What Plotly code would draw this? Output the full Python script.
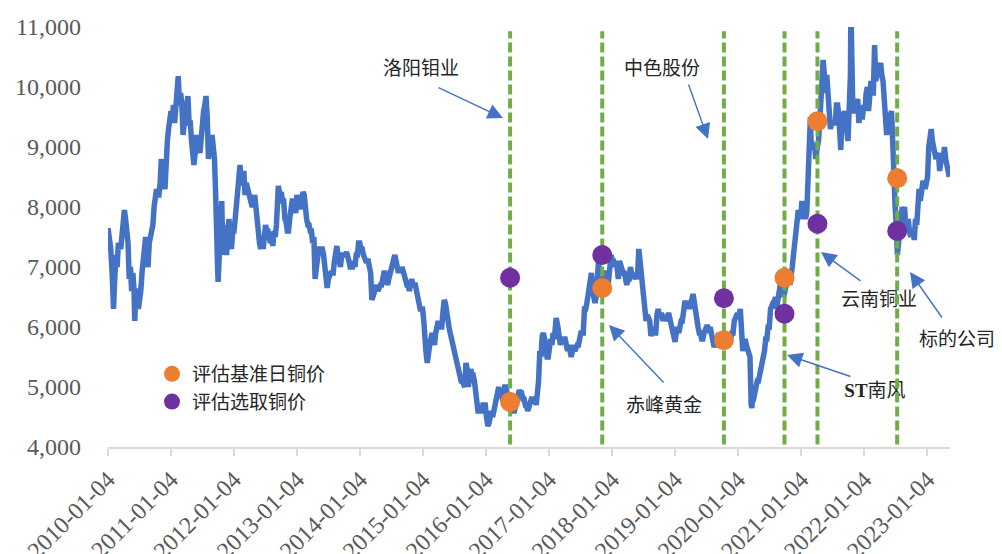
import pandas as pd
import plotly.graph_objects as go

# ---------------- data ----------------
copper_series = [
 ("2010-01-04",7650),("2010-01-12",7500),("2010-01-20",7300),("2010-01-28",6900),("2010-02-05",6300),
 ("2010-02-12",6800),("2010-02-19",7200),("2010-02-26",7000),("2010-03-05",7400),("2010-03-12",7350),
 ("2010-03-19",7300),("2010-03-26",7500),("2010-04-02",7650),("2010-04-09",7950),("2010-04-16",7800),
 ("2010-04-23",7600),("2010-04-30",7400),("2010-05-07",6800),("2010-05-14",7000),("2010-05-21",6600),
 ("2010-05-28",6900),("2010-06-04",6600),("2010-06-08",6100),("2010-06-15",6600),("2010-06-22",6600),
 ("2010-06-29",6300),("2010-07-06",6400),("2010-07-13",6600),("2010-07-20",6900),("2010-07-27",7100),
 ("2010-08-03",7300),("2010-08-10",7500),("2010-08-17",7100),("2010-08-24",7000),("2010-08-31",7400),
 ("2010-09-07",7500),("2010-09-14",7600),("2010-09-21",7700),("2010-09-28",8000),("2010-10-05",8100),
 ("2010-10-12",8300),("2010-10-19",8200),("2010-10-26",8200),("2010-11-02",8400),("2010-11-09",8800),
 ("2010-11-16",8300),("2010-11-23",8400),("2010-11-30",8300),("2010-12-07",8900),("2010-12-14",9100),
 ("2010-12-21",9300),("2010-12-28",9500),
 ("2011-01-04",9600),("2011-01-11",9400),("2011-01-18",9700),("2011-01-25",9400),("2011-02-01",9800),
 ("2011-02-08",9900),("2011-02-15",10180),("2011-02-22",9700),("2011-03-01",9900),("2011-03-08",9700),
 ("2011-03-15",9200),("2011-03-22",9400),("2011-03-29",9400),("2011-04-05",9700),("2011-04-12",9850),
 ("2011-04-19",9400),("2011-04-26",9400),("2011-05-03",9100),("2011-05-10",8800),("2011-05-17",8700),
 ("2011-05-24",8900),("2011-05-31",9200),("2011-06-07",9000),("2011-06-14",9000),("2011-06-21",8900),
 ("2011-06-28",9200),("2011-07-05",9500),("2011-07-12",9600),("2011-07-19",9700),("2011-07-26",9850),
 ("2011-08-02",9500),("2011-08-09",8800),("2011-08-16",9000),("2011-08-23",9000),("2011-08-30",9200),
 ("2011-09-06",9000),("2011-09-13",8800),("2011-09-20",8200),("2011-09-23",7300),("2011-09-30",7100),
 ("2011-10-04",6750),("2011-10-11",7300),("2011-10-18",7300),("2011-10-25",8100),("2011-11-01",7200),
 ("2011-11-08",7700),("2011-11-15",7500),("2011-11-22",7200),("2011-11-29",7600),("2011-12-06",7800),
 ("2011-12-13",7400),("2011-12-20",7300),("2011-12-28",7600),
 ("2012-01-04",7600),("2012-01-11",7800),("2012-01-18",8100),("2012-01-25",8400),("2012-02-01",8500),
 ("2012-02-08",8700),("2012-02-15",8400),("2012-02-22",8400),("2012-03-01",8600),("2012-03-08",8200),
 ("2012-03-15",8400),("2012-03-22",8300),("2012-03-29",8300),("2012-04-05",8100),("2012-04-12",8000),
 ("2012-04-19",8000),("2012-04-26",8100),("2012-05-03",8200),("2012-05-10",8000),("2012-05-17",7700),
 ("2012-05-24",7700),("2012-05-31",7400),("2012-06-07",7300),("2012-06-14",7500),("2012-06-21",7300),
 ("2012-06-28",7500),("2012-07-05",7700),("2012-07-12",7600),("2012-07-19",7600),("2012-07-26",7500),
 ("2012-08-02",7400),("2012-08-09",7500),("2012-08-16",7350),("2012-08-23",7600),("2012-08-30",7500),
 ("2012-09-06",7700),("2012-09-13",8000),("2012-09-17",8350),("2012-09-27",8200),("2012-10-04",8250),
 ("2012-10-11",8100),("2012-10-18",8100),("2012-10-25",7800),("2012-11-01",7750),("2012-11-08",7600),
 ("2012-11-15",7600),("2012-11-22",7800),("2012-11-29",8000),("2012-12-06",8100),("2012-12-13",8100),
 ("2012-12-20",7900),("2012-12-27",7900),
 ("2013-01-03",8200),("2013-01-10",8000),("2013-01-17",8000),("2013-01-24",8000),("2013-01-31",8100),
 ("2013-02-07",8250),("2013-02-14",8200),("2013-02-21",7900),("2013-02-28",7800),("2013-03-07",7700),
 ("2013-03-14",7700),("2013-03-21",7600),("2013-03-28",7600),("2013-04-04",7400),("2013-04-11",7500),
 ("2013-04-18",6800),("2013-04-25",7000),("2013-05-02",7200),("2013-05-09",7300),("2013-05-16",7300),
 ("2013-05-23",7300),("2013-05-30",7300),("2013-06-06",7200),("2013-06-13",7000),("2013-06-20",6800),
 ("2013-06-27",6650),("2013-07-04",6800),("2013-07-11",6900),("2013-07-18",6900),("2013-07-25",6900),
 ("2013-08-01",6900),("2013-08-08",7100),("2013-08-15",7300),("2013-08-22",7350),("2013-08-29",7200),
 ("2013-09-05",7100),("2013-09-12",7000),("2013-09-19",7200),("2013-09-26",7200),("2013-10-03",7200),
 ("2013-10-10",7200),("2013-10-17",7250),("2013-10-24",7200),("2013-10-31",7100),("2013-11-07",7000),
 ("2013-11-14",7000),("2013-11-21",7000),("2013-11-28",7100),("2013-12-05",7000),("2013-12-12",7200),
 ("2013-12-19",7200),("2013-12-26",7400),
 ("2014-01-02",7400),("2014-01-09",7300),("2014-01-16",7300),("2014-01-23",7200),("2014-01-30",7100),
 ("2014-02-06",7100),("2014-02-13",7100),("2014-02-20",7100),("2014-02-27",7000),("2014-03-06",6900),
 ("2014-03-13",6450),("2014-03-20",6500),("2014-03-27",6600),("2014-04-03",6600),("2014-04-10",6700),
 ("2014-04-17",6600),("2014-04-24",6700),("2014-05-01",6700),("2014-05-08",6700),("2014-05-15",6900),
 ("2014-05-22",6900),("2014-05-29",6900),("2014-06-05",6700),("2014-06-12",6700),("2014-06-19",6800),
 ("2014-06-26",6900),("2014-07-03",7000),("2014-07-10",7100),("2014-07-17",7100),("2014-07-24",7200),
 ("2014-07-31",7100),("2014-08-07",7000),("2014-08-14",6900),("2014-08-21",7000),("2014-08-28",6900),
 ("2014-09-04",7000),("2014-09-11",6900),("2014-09-18",6800),("2014-09-25",6800),("2014-10-02",6700),
 ("2014-10-09",6700),("2014-10-16",6600),("2014-10-23",6700),("2014-10-30",6800),("2014-11-06",6700),
 ("2014-11-13",6700),("2014-11-20",6700),("2014-11-27",6600),("2014-12-04",6400),("2014-12-11",6400),
 ("2014-12-18",6300),("2014-12-25",6300),
 ("2015-01-01",6300),("2015-01-08",6100),("2015-01-14",5700),("2015-01-20",5600),("2015-01-28",5400),
 ("2015-02-04",5700),("2015-02-11",5700),("2015-02-18",5800),("2015-02-25",5900),("2015-03-04",5800),
 ("2015-03-11",5700),("2015-03-18",5900),("2015-03-25",6100),("2015-04-01",6100),("2015-04-08",6000),
 ("2015-04-15",6000),("2015-04-22",6000),("2015-04-29",6250),("2015-05-06",6450),("2015-05-13",6400),
 ("2015-05-20",6200),("2015-05-27",6000),("2015-06-03",6000),("2015-06-10",5900),("2015-06-17",5800),
 ("2015-06-24",5700),("2015-07-01",5700),("2015-07-08",5500),("2015-07-15",5500),("2015-07-22",5300),
 ("2015-07-29",5200),("2015-08-05",5200),("2015-08-12",5100),("2015-08-19",5100),("2015-08-26",5000),
 ("2015-09-02",5000),("2015-09-09",5400),("2015-09-16",5300),("2015-09-23",5000),("2015-09-30",5100),
 ("2015-10-07",5300),("2015-10-14",5200),("2015-10-21",5200),("2015-10-28",5100),("2015-11-04",4900),
 ("2015-11-11",4800),("2015-11-18",4600),("2015-11-25",4600),("2015-12-02",4600),("2015-12-09",4600),
 ("2015-12-16",4700),("2015-12-23",4700),("2015-12-30",4700),
 ("2016-01-06",4500),("2016-01-14",4350),("2016-01-21",4400),("2016-01-28",4500),("2016-02-04",4600),
 ("2016-02-11",4500),("2016-02-18",4600),("2016-02-25",4700),("2016-03-03",4900),("2016-03-10",4900),
 ("2016-03-17",5000),("2016-03-24",4900),("2016-03-31",4900),("2016-04-07",4800),("2016-04-14",4800),
 ("2016-04-21",5000),("2016-04-28",5000),("2016-05-05",4900),("2016-05-12",4700),("2016-05-19",4600),
 ("2016-05-26",4700),("2016-06-02",4600),("2016-06-09",4600),("2016-06-16",4600),("2016-06-23",4700),
 ("2016-06-30",4800),("2016-07-07",4900),("2016-07-14",4950),("2016-07-21",4900),("2016-07-28",4900),
 ("2016-08-04",4800),("2016-08-11",4800),("2016-08-18",4700),("2016-08-25",4700),("2016-09-01",4600),
 ("2016-09-08",4700),("2016-09-15",4700),("2016-09-22",4800),("2016-09-29",4800),("2016-10-06",4800),
 ("2016-10-13",4800),("2016-10-20",4700),("2016-10-27",4900),("2016-11-03",5100),("2016-11-10",5600),
 ("2016-11-17",5500),("2016-11-24",5850),("2016-12-01",5900),("2016-12-08",5800),("2016-12-15",5600),
 ("2016-12-22",5500),("2016-12-29",5500),
 ("2017-01-05",5600),("2017-01-12",5800),("2017-01-19",5700),("2017-01-26",5900),("2017-02-02",5800),
 ("2017-02-09",6000),("2017-02-13",6150),("2017-02-23",6000),("2017-03-02",5900),("2017-03-09",5700),
 ("2017-03-16",5800),("2017-03-23",5800),("2017-03-30",5800),("2017-04-06",5800),("2017-04-13",5700),
 ("2017-04-20",5600),("2017-04-27",5700),("2017-05-04",5600),("2017-05-11",5500),("2017-05-18",5600),
 ("2017-05-25",5700),("2017-06-01",5600),("2017-06-08",5700),("2017-06-15",5700),("2017-06-22",5700),
 ("2017-06-29",5900),("2017-07-06",5900),("2017-07-13",5900),("2017-07-20",5900),("2017-07-27",6300),
 ("2017-08-03",6300),("2017-08-10",6400),("2017-08-17",6500),("2017-08-24",6600),("2017-08-31",6800),
 ("2017-09-05",6900),("2017-09-12",6500),("2017-09-19",6500),("2017-09-26",6400),("2017-10-03",6500),
 ("2017-10-10",6800),("2017-10-16",7100),("2017-10-23",6900),("2017-10-30",6800),("2017-11-06",6800),
 ("2017-11-13",6700),("2017-11-20",6900),("2017-11-27",6900),("2017-12-04",6700),("2017-12-11",6700),
 ("2017-12-18",6900),("2017-12-28",7200),
 ("2018-01-04",7100),("2018-01-11",7100),("2018-01-18",7000),("2018-01-25",7100),("2018-02-01",7000),
 ("2018-02-08",6800),("2018-02-15",7100),("2018-02-22",7000),("2018-03-01",6900),("2018-03-08",6900),
 ("2018-03-15",6900),("2018-03-22",6700),("2018-03-29",6700),("2018-04-05",6800),("2018-04-12",6800),
 ("2018-04-19",7000),("2018-04-26",6900),("2018-05-03",6800),("2018-05-10",6900),("2018-05-17",6800),
 ("2018-05-24",6800),("2018-05-31",6900),("2018-06-07",7300),("2018-06-14",7100),("2018-06-21",6900),
 ("2018-06-28",6600),("2018-07-05",6300),("2018-07-12",6200),("2018-07-19",6100),("2018-07-26",6200),
 ("2018-08-02",6100),("2018-08-09",6100),("2018-08-16",5850),("2018-08-23",5900),("2018-08-30",6000),
 ("2018-09-06",5900),("2018-09-13",5900),("2018-09-20",6200),("2018-09-27",6300),("2018-10-04",6200),
 ("2018-10-11",6200),("2018-10-18",6200),("2018-10-25",6100),("2018-11-01",6200),("2018-11-08",6100),
 ("2018-11-15",6200),("2018-11-22",6200),("2018-11-29",6200),("2018-12-06",6100),("2018-12-13",6100),
 ("2018-12-20",6000),("2018-12-27",5900),
 ("2019-01-03",5750),("2019-01-10",5900),("2019-01-17",6000),("2019-01-24",5900),("2019-01-31",6100),
 ("2019-02-07",6100),("2019-02-14",6100),("2019-02-21",6300),("2019-02-28",6400),("2019-03-07",6400),
 ("2019-03-14",6400),("2019-03-21",6400),("2019-03-28",6300),("2019-04-04",6400),("2019-04-11",6400),
 ("2019-04-17",6550),("2019-04-25",6400),("2019-05-02",6200),("2019-05-09",6100),("2019-05-16",6000),
 ("2019-05-23",5900),("2019-05-30",5900),("2019-06-06",5800),("2019-06-13",5800),("2019-06-20",5900),
 ("2019-06-27",6000),("2019-07-04",6000),("2019-07-11",6000),("2019-07-18",5900),("2019-07-25",6000),
 ("2019-08-01",5900),("2019-08-08",5750),("2019-08-15",5700),("2019-08-22",5700),("2019-08-29",5700),
 ("2019-09-05",5800),("2019-09-12",5900),("2019-09-19",5800),("2019-09-26",5700),("2019-10-03",5650),
 ("2019-10-10",5750),("2019-10-17",5800),("2019-10-24",5900),("2019-10-31",5800),("2019-11-07",5900),
 ("2019-11-14",5800),("2019-11-21",5800),("2019-11-28",5900),("2019-12-05",5900),("2019-12-12",6100),
 ("2019-12-19",6200),("2019-12-26",6200),
 ("2020-01-02",6200),("2020-01-09",6200),("2020-01-16",6300),("2020-01-23",6000),("2020-01-30",5600),
 ("2020-02-06",5700),("2020-02-13",5800),("2020-02-20",5700),("2020-02-27",5600),("2020-03-05",5600),
 ("2020-03-12",5500),("2020-03-19",4700),("2020-03-23",4650),("2020-03-26",4800),("2020-04-02",4800),
 ("2020-04-09",4900),("2020-04-16",5100),("2020-04-23",5100),("2020-04-30",5100),("2020-05-07",5200),
 ("2020-05-14",5200),("2020-05-21",5400),("2020-05-28",5400),("2020-06-04",5600),("2020-06-11",5800),
 ("2020-06-18",5800),("2020-06-25",6000),("2020-07-02",6000),("2020-07-09",6300),("2020-07-16",6400),
 ("2020-07-23",6400),("2020-07-30",6400),("2020-08-06",6500),("2020-08-13",6300),("2020-08-20",6500),
 ("2020-08-27",6700),("2020-09-03",6700),("2020-09-10",6700),("2020-09-17",6800),("2020-09-24",6500),
 ("2020-10-01",6600),("2020-10-08",6700),("2020-10-15",6700),("2020-10-22",6900),("2020-10-29",6700),
 ("2020-11-05",6800),("2020-11-12",7000),("2020-11-19",7200),("2020-11-26",7400),("2020-12-03",7700),
 ("2020-12-10",7800),("2020-12-17",7950),("2020-12-24",7900),("2020-12-31",7800),
 ("2021-01-07",8100),("2021-01-14",7900),("2021-01-21",8000),("2021-01-28",7800),("2021-02-04",7900),
 ("2021-02-11",8400),("2021-02-18",8800),("2021-02-25",9500),("2021-03-01",9100),("2021-03-08",9000),
 ("2021-03-15",9000),("2021-03-22",9000),("2021-03-29",8800),("2021-04-06",9000),("2021-04-13",9100),
 ("2021-04-20",9400),("2021-04-27",9800),("2021-05-04",10000),("2021-05-10",10450),("2021-05-17",10200),
 ("2021-05-24",9900),("2021-05-31",10200),("2021-06-07",9900),("2021-06-14",9700),("2021-06-21",9300),
 ("2021-06-28",9400),("2021-07-05",9400),("2021-07-12",9400),("2021-07-19",9400),("2021-07-26",9700),
 ("2021-08-02",9700),("2021-08-09",9500),("2021-08-16",9200),("2021-08-20",8950),("2021-08-27",9400),
 ("2021-09-03",9500),("2021-09-10",9600),("2021-09-17",9300),("2021-09-24",9300),("2021-10-01",9100),
 ("2021-10-08",9600),("2021-10-15",10200),("2021-10-18",11300),("2021-10-22",10100),("2021-10-29",9600),
 ("2021-11-05",9600),("2021-11-12",9800),("2021-11-19",9700),("2021-11-26",9800),("2021-12-03",9400),
 ("2021-12-10",9600),("2021-12-17",9500),("2021-12-24",9500),("2021-12-31",9700),
 ("2022-01-07",9600),("2022-01-14",9900),("2022-01-21",10000),("2022-01-28",9600),("2022-02-04",9900),
 ("2022-02-11",10100),("2022-02-18",9900),("2022-02-25",9900),("2022-03-04",10700),("2022-03-07",10500),
 ("2022-03-11",10100),("2022-03-18",10200),("2022-03-25",10300),("2022-04-01",10300),("2022-04-08",10400),
 ("2022-04-15",10200),("2022-04-22",10100),("2022-04-29",9800),("2022-05-06",9600),("2022-05-13",9200),
 ("2022-05-20",9400),("2022-05-27",9500),("2022-06-03",9500),("2022-06-10",9600),("2022-06-17",9100),
 ("2022-06-24",8300),("2022-07-01",8000),("2022-07-08",7700),("2022-07-14",7200),("2022-07-21",7400),
 ("2022-07-28",7700),("2022-08-04",7700),("2022-08-11",8000),("2022-08-18",7900),("2022-08-25",8000),
 ("2022-09-01",7600),("2022-09-08",7700),("2022-09-15",7800),("2022-09-22",7600),("2022-09-29",7500),
 ("2022-10-06",7600),("2022-10-13",7600),("2022-10-20",7450),("2022-10-27",7800),("2022-11-03",7700),
 ("2022-11-10",8300),("2022-11-17",8300),("2022-11-24",8100),("2022-12-01",8300),("2022-12-08",8400),
 ("2022-12-15",8400),("2022-12-22",8300),("2022-12-29",8400),
 ("2023-01-05",8500),("2023-01-12",9000),("2023-01-19",9300),("2023-01-26",9300),("2023-02-02",9100),
 ("2023-02-09",8900),("2023-02-16",8900),("2023-02-23",8800),("2023-03-02",8900),("2023-03-09",8900),
 ("2023-03-16",8600),("2023-03-23",8800),("2023-03-30",8900),("2023-04-06",8800),("2023-04-13",9000),
 ("2023-04-20",8800),("2023-04-27",8600),("2023-05-04",8600),("2023-05-11",8500),
]
copper_dates = [d for d, _ in copper_series]
copper_values = [v for _, v in copper_series]

companies = ["洛阳钼业", "赤峰黄金", "中色股份", "ST南风", "云南铜业", "标的公司"]
event_dates = ["2016-05-22", "2017-11-07", "2019-10-13", "2020-09-28", "2021-04-07", "2022-07-13"]
base_date_price = [4750, 6650, 5780, 6820, 9430, 8480]     # 评估基准日铜价
selected_price = [6820, 7200, 6480, 6220, 7720, 7600]      # 评估选取铜价
vline_low, vline_high = 4040, 10930

tick_dates = [f"{y}-01-04" for y in range(2010, 2024)]
y_ticks = [4000, 5000, 6000, 7000, 8000, 9000, 10000, 11000]
x_range = ["2010-01-04", "2023-05-15"]
y_range = [4000, 11000]

FONT = "Liberation Serif, Noto Sans CJK SC, serif"
BLUE, GREEN, ORANGE, PURPLE = "#4472C4", "#70AD47", "#ED7D31", "#7030A0"

# ---------------- layout geometry (window pixels; page body has an 8px margin) ----------------
OFF = 8
W, H = 1002 - OFF, 554 - OFF
L, R, T, B = 108, 950, 27, 447        # plot area in window pixels
def px(x): return (x - L) / (R - L)
def py(y): return (B - y) / (B - T)
_x0, _x1 = pd.Timestamp(x_range[0]), pd.Timestamp(x_range[1])
def dx(x): return _x0 + (_x1 - _x0) * px(x)
def dy(y): return y_range[0] + (y_range[1] - y_range[0]) * py(y)

# label layout: text centre (px), arrow tip (px), arrow tail (px)
label_text = ["洛阳钼业", "中色股份", "赤峰黄金", "<b>ST</b>南风", "云南铜业", "标的公司"]
label_pos = [(421, 70), (662, 70), (664, 407), (875, 392), (879, 301), (957, 339)]
arrow_tip = [(503, 118), (708, 139), (609, 325), (787, 355), (821, 252), (910, 272)]
arrow_tail = [(437, 87), (688, 83), (665, 384), (852, 377), (862, 282), (943, 319)]
inside = [i for i, p in enumerate(label_pos) if L < p[0] < R]
outside = [i for i in range(len(label_pos)) if i not in inside]

fig = go.Figure()
fig.add_trace(go.Scatter(x=copper_dates, y=copper_values, mode="lines",
                         line=dict(color=BLUE, width=5.5), showlegend=False, hoverinfo="skip"))
# labels inside the plot are drawn under the dashed lines (as in the original)
fig.add_trace(go.Scatter(x=[dx(label_pos[i][0]) for i in inside],
                         y=[dy(label_pos[i][1]) for i in inside],
                         mode="text", text=[label_text[i] for i in inside],
                         textposition="middle center",
                         textfont=dict(family=FONT, size=19, color="#262626"),
                         cliponaxis=False, showlegend=False, hoverinfo="skip"))

vx, vy = [], []
for d in event_dates:
    vx += [d, d, None]
    vy += [vline_low, vline_high, None]
fig.add_trace(go.Scatter(x=vx, y=vy, mode="lines", connectgaps=False,
                         line=dict(color=GREEN, width=4, dash="10px,4px"), showlegend=False))

fig.add_trace(go.Scatter(x=event_dates, y=base_date_price, mode="markers", name="评估基准日铜价",
                         marker=dict(color=ORANGE, size=20), cliponaxis=False))
fig.add_trace(go.Scatter(x=event_dates, y=selected_price, mode="markers", name="评估选取铜价",
                         marker=dict(color=PURPLE, size=20), cliponaxis=False))

annotations = []
for i in outside:
    tx, ty = label_pos[i]
    annotations.append(dict(text=label_text[i], x=px(tx), y=py(ty), xref="paper", yref="paper",
                            showarrow=False, xanchor="center", yanchor="middle",
                            font=dict(family=FONT, size=19, color="#262626")))
for (hx, hy), (sx, sy) in zip(arrow_tip, arrow_tail):
    annotations.append(dict(text="", x=px(hx), y=py(hy), xref="paper", yref="paper",
                            showarrow=True, ax=sx - hx, ay=sy - hy,
                            arrowhead=2, arrowsize=2.2, arrowwidth=1.4, arrowcolor=BLUE))

fig.update_layout(
    width=W, height=H,
    margin=dict(l=L - OFF, r=1002 - R, t=T - OFF, b=554 - B, autoexpand=False),
    paper_bgcolor="white", plot_bgcolor="white",
    font=dict(family=FONT, color="#595959"),
    showlegend=True,
    legend=dict(x=px(152), y=py(355), xanchor="left", yanchor="top",
                bgcolor="rgba(0,0,0,0)", font=dict(family=FONT, size=19, color="#262626"),
                itemwidth=30, tracegroupgap=0),
    annotations=annotations,
)
fig.update_xaxes(type="date", range=x_range, automargin=False,
                 tickvals=tick_dates, ticktext=tick_dates, tickangle=-45,
                 tickfont=dict(family=FONT, size=24, color="#595959"),
                 showline=True, linecolor="#D9D9D9", linewidth=2,
                 ticks="outside", ticklen=7, tickcolor="#D9D9D9", tickwidth=2,
                 showgrid=False, zeroline=False)
fig.update_yaxes(range=y_range, tickvals=y_ticks, tickformat=",", automargin=False,
                 tickfont=dict(family=FONT, size=24, color="#595959"),
                 showgrid=False, zeroline=False, showline=False, ticks="",
                 ticklabelstandoff=26)

fig.write_html("out.html")
